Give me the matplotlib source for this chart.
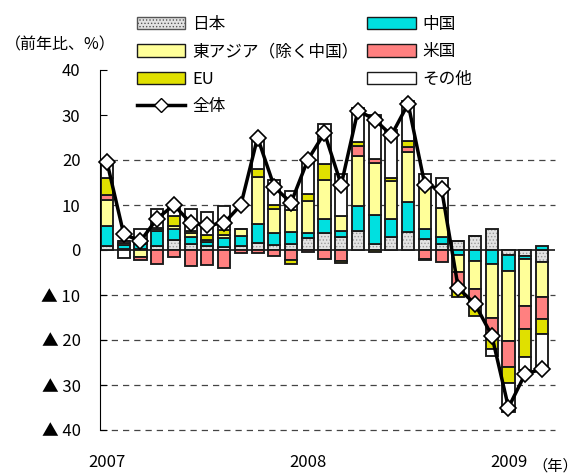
"""
monthly export growth by destination, stacked bars with total line
"""
import numpy as np
import matplotlib.pyplot as plt
from matplotlib.patches import Patch
from matplotlib.lines import Line2D

plt.rcParams['font.family'] = ['Noto Sans CJK JP', 'DejaVu Sans']
plt.rcParams['hatch.linewidth'] = 0.6

# months 2007/01 .. 2009/03
year_pos = [0, 12, 24]
year_labels = ['2007', '2008', '2009']

japan = [0.9, 0.3, 0.3, 1.0, 2.3, 1.4, 0.8, 0.6, 1.0, 1.5, 1.2, 1.4, 2.6, 3.8,
         2.9, 4.2, 1.4, 2.8, 3.9, 2.4, 1.3, 2.1, 3.2, 4.7, -1.0, -1.3, -2.7]
china = [4.4, 0.9, 1.0, 3.3, 2.4, 1.6, 1.0, 2.1, 2.2, 4.3, 2.6, 2.7, 1.1, 3.2,
         1.4, 5.6, 6.4, 4.1, 6.7, 2.2, 1.6, -1.0, -2.4, -3.1, -3.7, -0.7, 0.9]
east_asia = [5.9, 0.3, -1.6, 0.3, 0.6, 0.8, 0.5, 0.7, 1.5, 10.4, 5.4, 4.8, 7.2, 8.5,
             3.2, 11.1, 11.5, 8.5, 11.1, 10.5, 6.5, -3.9, -6.3, -11.9, -15.6, -10.4, -7.8]
usa = [1.1, 0.5, -0.7, -3.2, -1.5, -3.6, -3.3, -3.9, -0.7, -0.7, -1.4, -2.3, -0.5, -2.0,
       -2.4, 2.2, 1.0, 0.0, 1.1, -1.9, -2.6, -3.0, -3.7, -4.0, -5.6, -5.2, -4.8]
eu = [3.7, 0.0, 0.5, 0.2, 2.2, 0.5, 1.0, 1.0, 0.0, 1.9, 0.9, -0.7, 1.5, 3.6,
      -0.5, 0.8, -0.5, 0.7, 1.5, -0.3, 0.0, -2.6, -2.2, -3.0, -3.7, -6.2, -3.3]
other = [3.0, -1.7, 2.9, 4.4, 2.3, 4.8, 5.2, 5.4, 0.0, 6.8, 5.4, 4.2, 7.3, 8.8,
         9.3, 7.6, 9.7, 10.6, 8.9, 1.8, 6.7, 0.0, 0.0, -1.5, -6.3, -2.9, -8.0]
total = [19.5, 3.5, 2.0, 7.0, 10.0, 6.0, 5.5, 6.0, 10.0, 25.0, 14.0, 10.5, 20.0, 26.0,
         14.5, 31.0, 29.0, 25.5, 32.5, 14.5, 13.5, -8.5, -12.0, -19.0, -35.0, -27.5, -26.5]

series = [
    ('日本', japan, '#e2e2e2'),
    ('中国', china, '#00e0e0'),
    ('東アジア（除く中国）', east_asia, '#ffff99'),
    ('米国', usa, '#ff8080'),
    ('EU', eu, '#e0e000'),
    ('その他', other, '#ffffff'),
]

edge = '#1a1a1a'
x = np.arange(len(total))
w = 0.72

fig = plt.figure(figsize=(5.79, 4.75), dpi=100)
ax = fig.add_axes([100 / 579, 45 / 475, 455 / 579, 360 / 475])

for v in [20, 10, -10, -20, -30, -40]:
    ax.axhline(v, color='#444444', lw=0.9, ls=(0, (5, 4)), zorder=0, clip_on=False)
ax.axhline(0, color='black', lw=1.1, zorder=1)

pos_base = np.zeros(len(x))
neg_base = np.zeros(len(x))
for name, vals, col in series:
    vals = np.array(vals)
    bottom = np.where(vals >= 0, pos_base, neg_base)
    if name == '日本':
        ax.bar(x, vals, w, bottom=bottom, facecolor=col, edgecolor='#9a9a9a',
               hatch='.....', lw=0, zorder=2)
        ax.bar(x, vals, w, bottom=bottom, fill=False, edgecolor=edge, lw=1.35, zorder=2)
    else:
        ax.bar(x, vals, w, bottom=bottom, color=col, edgecolor=edge, lw=1.35, zorder=2)
    pos_base = pos_base + np.clip(vals, 0, None)
    neg_base = neg_base + np.clip(vals, None, 0)

ax.plot(x, total, color='black', lw=2.5, marker='D', ms=8.5, mfc='white',
        mec='black', mew=1.2, zorder=5, clip_on=False)

ax.set_xlim(-0.42, 26.78)
ax.set_ylim(-40, 40)
for s in ['top', 'right', 'bottom']:
    ax.spines[s].set_visible(False)
ax.spines['left'].set_linewidth(0.8)

yt = list(range(-40, 41, 10))
ax.set_yticks(yt)
ax.set_yticklabels([f'▲ {-v}' if v < 0 else str(v) for v in yt])
ax.tick_params(axis='y', direction='in', length=5, width=0.8, pad=14, labelsize=12)
ax.set_xticks(year_pos)
ax.set_xticklabels(year_labels)
ax.tick_params(axis='x', length=0, pad=17, labelsize=12)

fig.text(5 / 579, 1 - 45 / 475, '（前年比、%）', fontsize=11.5, va='center', ha='left')
fig.text(578 / 579, 1 - 466 / 475, '（年）', fontsize=11, va='center', ha='right')

handles = [
    Patch(facecolor='#e2e2e2', edgecolor='#555555', hatch='.....'),
    Patch(facecolor='#ffff99', edgecolor=edge),
    Patch(facecolor='#e0e000', edgecolor=edge),
    Line2D([], [], color='black', lw=2.5, marker='D', ms=7, mfc='white', mec='black'),
    Patch(facecolor='#00e0e0', edgecolor=edge),
    Patch(facecolor='#ff8080', edgecolor=edge),
    Patch(facecolor='#ffffff', edgecolor=edge),
]
labels = ['日本', '東アジア（除く中国）', 'EU', '全体', '中国', '米国', 'その他']
fig.legend(handles, labels, loc='upper left', bbox_to_anchor=(137 / 579, 1 - 16 / 475),
           ncol=2, fontsize=12, frameon=False, borderpad=0, borderaxespad=0,
           handlelength=2.9, handleheight=0.75, handletextpad=0.4,
           labelspacing=0.62, columnspacing=0.55)

plt.savefig('out.png', dpi=100)
